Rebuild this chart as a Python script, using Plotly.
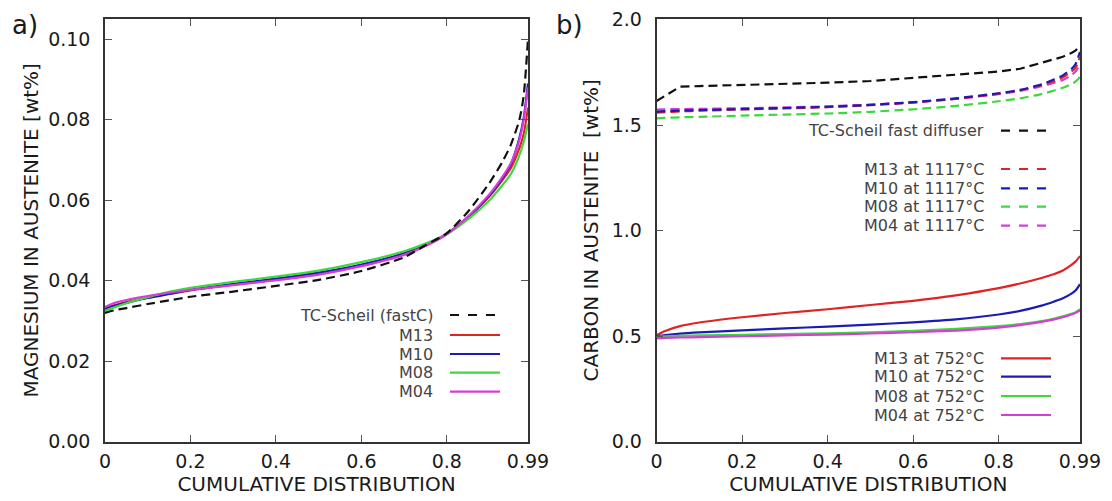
import plotly.graph_objects as go

# ---------------- data: panel a) magnesium ----------------
x_a = [0, 0.02, 0.05, 0.1, 0.15, 0.2, 0.3, 0.4, 0.5, 0.6, 0.7, 0.75, 0.8, 0.85, 0.9, 0.93, 0.95, 0.97, 0.98, 0.99]
mg_tc  = [0.0320, 0.0326, 0.0332, 0.0342, 0.0351, 0.0360, 0.0373, 0.0387, 0.0402, 0.0424, 0.0458, 0.0488, 0.0518, 0.0572, 0.0643, 0.0695, 0.0738, 0.0800, 0.0860, 0.1000]
mg_m13 = [0.0330, 0.0338, 0.0347, 0.0358, 0.0367, 0.0376, 0.0390, 0.0402, 0.0417, 0.0437, 0.0466, 0.0487, 0.0515, 0.0558, 0.0610, 0.0650, 0.0680, 0.0730, 0.0765, 0.0830]
mg_m10 = [0.0330, 0.0337, 0.0345, 0.0357, 0.0367, 0.0377, 0.0392, 0.0405, 0.0420, 0.0440, 0.0468, 0.0489, 0.0517, 0.0558, 0.0612, 0.0655, 0.0690, 0.0755, 0.0805, 0.0890]
mg_m08 = [0.0325, 0.0333, 0.0344, 0.0359, 0.0372, 0.0382, 0.0397, 0.0410, 0.0425, 0.0446, 0.0473, 0.0492, 0.0516, 0.0553, 0.0600, 0.0637, 0.0665, 0.0712, 0.0745, 0.0790]
mg_m04 = [0.0335, 0.0344, 0.0352, 0.0362, 0.0370, 0.0377, 0.0389, 0.0401, 0.0415, 0.0436, 0.0464, 0.0486, 0.0516, 0.0560, 0.0615, 0.0658, 0.0692, 0.0750, 0.0800, 0.0880]

# ---------------- data: panel b) carbon ----------------
x_b = [0, 0.02, 0.055, 0.1, 0.2, 0.3, 0.4, 0.5, 0.6, 0.7, 0.8, 0.85, 0.9, 0.93, 0.95, 0.97, 0.98, 0.99]
c_tc      = [1.615, 1.640, 1.683, 1.686, 1.691, 1.696, 1.702, 1.710, 1.724, 1.738, 1.755, 1.768, 1.795, 1.812, 1.825, 1.843, 1.855, 1.880]
c_m13_hi  = [1.560, 1.562, 1.566, 1.569, 1.575, 1.580, 1.586, 1.595, 1.608, 1.626, 1.650, 1.666, 1.690, 1.710, 1.728, 1.755, 1.775, 1.824]
c_m10_hi  = [1.565, 1.567, 1.570, 1.572, 1.577, 1.582, 1.588, 1.597, 1.610, 1.628, 1.652, 1.668, 1.694, 1.718, 1.737, 1.767, 1.792, 1.848]
c_m08_hi  = [1.533, 1.535, 1.538, 1.540, 1.546, 1.551, 1.556, 1.564, 1.576, 1.592, 1.614, 1.628, 1.648, 1.665, 1.678, 1.695, 1.708, 1.730]
c_m04_hi  = [1.575, 1.576, 1.577, 1.578, 1.581, 1.585, 1.590, 1.598, 1.609, 1.625, 1.648, 1.663, 1.685, 1.702, 1.715, 1.738, 1.756, 1.792]
c_m13_lo  = [0.505, 0.525, 0.548, 0.565, 0.590, 0.610, 0.628, 0.648, 0.668, 0.694, 0.728, 0.750, 0.776, 0.795, 0.812, 0.838, 0.855, 0.880]
c_m10_lo  = [0.500, 0.505, 0.512, 0.518, 0.528, 0.537, 0.546, 0.555, 0.566, 0.580, 0.603, 0.620, 0.645, 0.665, 0.680, 0.702, 0.718, 0.747]
c_m08_lo  = [0.497, 0.499, 0.502, 0.504, 0.507, 0.510, 0.514, 0.519, 0.526, 0.535, 0.548, 0.558, 0.572, 0.584, 0.594, 0.606, 0.614, 0.628]
c_m04_lo  = [0.490, 0.492, 0.494, 0.496, 0.500, 0.504, 0.508, 0.513, 0.519, 0.527, 0.541, 0.553, 0.568, 0.580, 0.590, 0.603, 0.611, 0.622]

x_tickvals = [0, 0.2, 0.4, 0.6, 0.8, 0.99]
x_ticktext = ["0", "0.2", "0.4", "0.6", "0.8", "0.99"]
ya_tickvals = [0, 0.02, 0.04, 0.06, 0.08, 0.10]
ya_ticktext = ["0.00", "0.02", "0.04", "0.06", "0.08", "0.10"]
yb_tickvals = [0, 0.5, 1.0, 1.5, 2.0]
yb_ticktext = ["0.0", "0.5", "1.0", "1.5", "2.0"]

legend_a = ["TC-Scheil (fastC)", "M13", "M10", "M08", "M04"]
legend_b_hi = ["TC-Scheil fast diffuser", "M13 at 1117°C", "M10 at 1117°C", "M08 at 1117°C", "M04 at 1117°C"]
legend_b_lo = ["M13 at 752°C", "M10 at 752°C", "M08 at 752°C", "M04 at 752°C"]

# ---------------- styling ----------------
BLACK = "#111111"
RED = "#e02424"
BLUE = "#1c1cb4"
GREEN = "#3cd83c"
MAGENTA = "#d83cd8"
FONT = "DejaVu Sans"
DASH = "9px,5px"
LW = 2.2

# page is 1112x501; browser body has an 8px margin, so the figure is drawn
# slightly smaller and all page-pixel positions are shifted by that offset
OFF = 8
W, H = 1102, 491
def px(xp):
    return (xp - OFF) / W
def py(yp):
    return 1 - (yp - OFF) / H

fig = go.Figure()

def add(x, y, color, dash, xa, ya, shape="spline"):
    fig.add_trace(go.Scatter(
        x=x, y=y, mode="lines", xaxis=xa, yaxis=ya, showlegend=False,
        line=dict(color=color, width=LW, dash=dash, shape=shape, smoothing=0.6),
        hoverinfo="x+y"))

# panel a
add(x_a, mg_m13, RED, "solid", "x", "y")
add(x_a, mg_m10, BLUE, "solid", "x", "y")
add(x_a, mg_m08, GREEN, "solid", "x", "y")
add(x_a, mg_m04, MAGENTA, "solid", "x", "y")
add(x_a, mg_tc, BLACK, DASH, "x", "y")

# panel b
add(x_b, c_tc, BLACK, DASH, "x2", "y2", shape="linear")
add(x_b, c_m08_hi, GREEN, DASH, "x2", "y2")
add(x_b, c_m04_hi, MAGENTA, DASH, "x2", "y2")
add(x_b, c_m13_hi, RED, DASH, "x2", "y2")
add(x_b, c_m10_hi, BLUE, DASH, "x2", "y2")
add(x_b, c_m13_lo, RED, "solid", "x2", "y2")
add(x_b, c_m10_lo, BLUE, "solid", "x2", "y2")
add(x_b, c_m08_lo, GREEN, "solid", "x2", "y2")
add(x_b, c_m04_lo, MAGENTA, "solid", "x2", "y2")

axis_common = dict(
    showline=True, linecolor="#333333", linewidth=1.5, mirror="allticks",
    ticks="inside", ticklen=7, tickwidth=1.2, tickcolor="#555555",
    showgrid=False, zeroline=False, automargin=False, ticklabeloverflow="allow",
    tickfont=dict(family=FONT, size=19, color="#1a1a1a"),
)
ydom = [py(441.7), py(19)]
TITLE_FONT = dict(family=FONT, size=20)

fig.update_layout(
    width=W, height=H,
    margin=dict(l=0, r=0, t=0, b=0, autoexpand=False),
    paper_bgcolor="white", plot_bgcolor="white",
    font=dict(family=FONT, color="#1a1a1a"),
    showlegend=False,
    xaxis=dict(domain=[px(105), px(528)], range=[0, 0.99], anchor="y",
               tickvals=x_tickvals, ticktext=x_ticktext, ticklabelstandoff=2,
               title=dict(text="CUMULATIVE DISTRIBUTION", font=TITLE_FONT, standoff=6),
               **axis_common),
    yaxis=dict(domain=ydom, range=[0, 0.105], anchor="x",
               tickvals=ya_tickvals, ticktext=ya_ticktext, ticklabelstandoff=9,
               title=dict(text="MAGNESIUM IN AUSTENITE [wt%]", font=TITLE_FONT, standoff=4),
               **axis_common),
    xaxis2=dict(domain=[px(656.5), px(1080)], range=[0, 0.99], anchor="y2",
                tickvals=x_tickvals, ticktext=x_ticktext, ticklabelstandoff=2,
                title=dict(text="CUMULATIVE DISTRIBUTION", font=TITLE_FONT, standoff=6),
                **axis_common),
    yaxis2=dict(domain=ydom, range=[0, 2.004], anchor="x2",
                tickvals=yb_tickvals, ticktext=yb_ticktext, ticklabelstandoff=9,
                title=dict(text="CARBON IN AUSTENITE  [wt%]", font=TITLE_FONT, standoff=8),
                **axis_common),
)

annotations = []
shapes = []

def legend_entry(label, color, dash, text_right, y, x0, x1):
    annotations.append(dict(
        x=px(text_right), y=py(y), xref="paper", yref="paper",
        xanchor="right", yanchor="middle", showarrow=False, text=label,
        font=dict(family=FONT, size=16, color="#444444")))
    shapes.append(dict(
        type="line", xref="paper", yref="paper",
        x0=px(x0), x1=px(x1), y0=py(y), y1=py(y),
        line=dict(color=color, width=LW, dash=dash)))

# legend a
for lab, col, dsh, yy in zip(legend_a,
                             [BLACK, RED, BLUE, GREEN, MAGENTA],
                             ["dash", "solid", "solid", "solid", "solid"],
                             [315, 335, 354, 372.7, 391.7]):
    legend_entry(lab, col, dsh, 435, yy, 450, 500)

# legend b (upper group)
for lab, col, yy in zip(legend_b_hi,
                        [BLACK, RED, BLUE, GREEN, MAGENTA],
                        [130.7, 169, 188.3, 206.7, 225.7]):
    legend_entry(lab, col, "dash", 986, yy, 1001, 1048)

# legend b (lower group)
for lab, col, yy in zip(legend_b_lo,
                        [RED, BLUE, GREEN, MAGENTA],
                        [358.3, 376.7, 396, 415]):
    legend_entry(lab, col, "solid", 986, yy, 1001, 1051)

# panel labels
annotations.append(dict(x=px(10), y=py(8), xref="paper", yref="paper", xanchor="left",
                        yanchor="top", showarrow=False, text="a)",
                        font=dict(family=FONT, size=26, color="#1a1a1a")))
annotations.append(dict(x=px(554), y=py(8), xref="paper", yref="paper", xanchor="left",
                        yanchor="top", showarrow=False, text="b)",
                        font=dict(family=FONT, size=26, color="#1a1a1a")))

fig.update_layout(annotations=annotations, shapes=shapes)

fig.write_html("out.html")
